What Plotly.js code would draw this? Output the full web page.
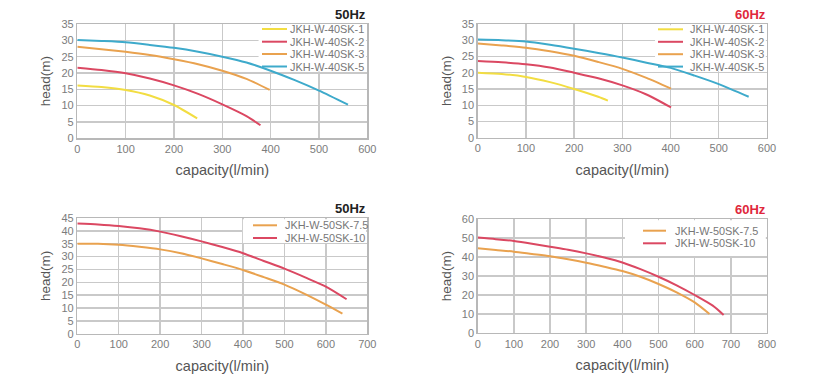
<!DOCTYPE html>
<html><head><meta charset="utf-8">
<script src="https://cdn.plot.ly/plotly-3.0.1.min.js"></script>
<style>html,body{margin:0;padding:0;background:#fff}#chart{width:834px;height:377px}</style>
</head><body><div id="chart"></div>
<script>
// ---------- DATA ----------
// Top-left: 50Hz, JKH-W-40SK series
const tl_names = ["JKH-W-40SK-1", "JKH-W-40SK-2", "JKH-W-40SK-3", "JKH-W-40SK-5"];
const tl_x1 = [0, 50, 100, 150, 200, 248];
const tl_y1 = [16.2, 15.7, 14.8, 13.1, 10.2, 6.1];
const tl_x2 = [0, 50, 100, 150, 200, 250, 300, 350, 379];
const tl_y2 = [21.6, 20.9, 19.9, 18.3, 16.2, 13.6, 10.4, 6.8, 4.0];
const tl_x3 = [0, 50, 100, 150, 200, 250, 300, 350, 398];
const tl_y3 = [28.0, 27.3, 26.5, 25.5, 24.2, 22.7, 20.7, 18.2, 14.8];
const tl_x5 = [0, 50, 100, 150, 200, 250, 300, 350, 400, 450, 500, 560];
const tl_y5 = [30.1, 29.8, 29.4, 28.6, 27.7, 26.5, 25.0, 23.2, 20.7, 17.8, 14.6, 10.3];

// Top-right: 60Hz, JKH-W-40SK series
const tr_names = ["JKH-W-40SK-1", "JKH-W-40SK-2", "JKH-W-40SK-3", "JKH-W-40SK-5"];
const tr_x1 = [0, 50, 100, 150, 200, 250, 270];
const tr_y1 = [20.0, 19.6, 18.7, 17.1, 15.0, 12.6, 11.4];
const tr_x2 = [0, 50, 100, 150, 200, 250, 300, 350, 401];
const tr_y2 = [23.6, 23.2, 22.6, 21.6, 20.0, 18.3, 16.1, 13.3, 9.3];
const tr_x3 = [0, 50, 100, 150, 200, 250, 300, 350, 401];
const tr_y3 = [29.0, 28.4, 27.7, 26.6, 25.2, 23.3, 21.2, 18.4, 15.1];
const tr_x5 = [0, 50, 100, 150, 200, 250, 300, 350, 400, 450, 500, 562];
const tr_y5 = [30.2, 30.0, 29.6, 28.6, 27.4, 26.1, 24.7, 23.1, 21.5, 19.1, 16.5, 12.6];

// Bottom-left: 50Hz, JKH-W-50SK series
const bl_names = ["JKH-W-50SK-7.5", "JKH-W-50SK-10"];
const bl_x75 = [0, 50, 100, 150, 200, 250, 300, 350, 400, 450, 500, 550, 600, 640];
const bl_y75 = [35.0, 35.0, 34.6, 33.8, 32.8, 31.3, 29.3, 27.1, 24.8, 22.0, 19.1, 15.4, 11.3, 7.8];
const bl_x10 = [0, 50, 100, 150, 200, 250, 300, 350, 400, 450, 500, 550, 600, 650];
const bl_y10 = [42.9, 42.5, 41.9, 41.0, 39.7, 37.9, 35.9, 33.7, 31.3, 28.3, 25.3, 21.9, 18.3, 13.4];

// Bottom-right: 60Hz, JKH-W-50SK series
const br_names = ["JKH-W-50SK-7.5", "JKH-W-50SK-10"];
const br_x75 = [0, 50, 100, 150, 200, 250, 300, 350, 400, 450, 500, 550, 600, 641];
const br_y75 = [44.6, 43.7, 42.8, 41.6, 40.4, 38.8, 37.0, 34.9, 32.6, 29.6, 25.8, 21.4, 16.1, 10.0];
const br_x10 = [0, 50, 100, 150, 200, 250, 300, 350, 400, 450, 500, 550, 600, 650, 680];
const br_y10 = [50.2, 49.4, 48.4, 47.0, 45.4, 43.8, 41.9, 39.7, 37.1, 33.6, 29.6, 25.1, 20.0, 14.4, 9.5];

const panelTitles = ["50Hz", "60Hz", "50Hz", "60Hz"];
const xAxisTitle = "capacity(l/min)";
const yAxisTitle = "head(m)";

// ---------- STYLE / LAYOUT ----------
const W = 834, H = 377;
const px = v => v / W;
const py = v => 1 - v / H;

const C_YEL = "#f2dd42", C_RED = "#db4862", C_ORG = "#e9a24f", C_CYA = "#3eaacb";
const FONT = "Liberation Sans, Arial, sans-serif";

const panels = [
  { xa: "x", ya: "y", xd: [77.3, 367.3], yd: [24, 138.3], xmax: 600, ymax: 35, ydt: 5,
    series: [[tl_x1, tl_y1], [tl_x2, tl_y2], [tl_x3, tl_y3], [tl_x5, tl_y5]], names: tl_names,
    colors: [C_YEL, C_RED, C_ORG, C_CYA], titleColor: "#222",
    leg: { bx0: 0.625, by0: 0.585, lx: [262, 287], tx: 287.5, rows: [29, 41.7, 54, 66.5] } },
  { xa: "x2", ya: "y2", xd: [477.7, 767], yd: [24, 137.7], xmax: 600, ymax: 35, ydt: 5,
    series: [[tr_x1, tr_y1], [tr_x2, tr_y2], [tr_x3, tr_y3], [tr_x5, tr_y5]], names: tr_names,
    colors: [C_YEL, C_RED, C_ORG, C_CYA], titleColor: "#e0283c",
    leg: { bx0: 0.613, by0: 0.585, lx: [658, 683], tx: 688, rows: [29.3, 41.8, 54.2, 66.6] } },
  { xa: "x3", ya: "y3", xd: [77.3, 367.3], yd: [218, 333.7], xmax: 700, ymax: 45, ydt: 5,
    series: [[bl_x75, bl_y75], [bl_x10, bl_y10]], names: bl_names,
    colors: [C_ORG, C_RED], titleColor: "#222",
    leg: { bx0: 0.571, by0: 0.785, lx: [253, 277], tx: 283, rows: [225.3, 238] } },
  { xa: "x4", ya: "y4", xd: [477.7, 767], yd: [219, 333], xmax: 800, ymax: 60, ydt: 10,
    series: [[br_x75, br_y75], [br_x10, br_y10]], names: br_names,
    colors: [C_ORG, C_RED], titleColor: "#e0283c",
    leg: { bx0: 0.509, by0: 0.675, lx: [643, 666], tx: 673, rows: [230.7, 243.3] } }
];

const data = [];
const layout = {
  width: W, height: H,
  margin: { l: 0, r: 0, t: 0, b: 0 },
  paper_bgcolor: "#fff", plot_bgcolor: "#fff",
  showlegend: false,
  font: { family: FONT, color: "#777" },
  shapes: [], annotations: []
};

panels.forEach((p, i) => {
  p.series.forEach((s, j) => {
    data.push({
      x: s[0], y: s[1], xaxis: p.xa, yaxis: p.ya, type: "scatter", mode: "lines",
      name: p.names[j], line: { color: p.colors[j], width: 2, shape: "spline", smoothing: 0.7 },
      hoverinfo: "skip"
    });
  });
  const xk = p.xa === "x" ? "xaxis" : "xaxis" + p.xa.slice(1);
  const yk = p.ya === "y" ? "yaxis" : "yaxis" + p.ya.slice(1);
  const common = {
    showgrid: true, gridcolor: "#c9c9c9", gridwidth: 1.4,
    showline: true, mirror: true, linecolor: "#b8b8b8", linewidth: 1.4,
    zeroline: false, ticks: "", fixedrange: true,
    tickfont: { family: FONT, size: 11, color: "#7c7c7c" }
  };
  layout[xk] = Object.assign({}, common, {
    domain: [px(p.xd[0]), px(p.xd[1])], anchor: p.ya, range: [0, p.xmax],
    tick0: 0, dtick: 100,
    title: { text: xAxisTitle, font: { family: FONT, size: 14.5, color: "#555" }, standoff: 11 }
  });
  layout[yk] = Object.assign({}, common, {
    domain: [py(p.yd[1]), py(p.yd[0])], anchor: p.xa, range: [0, p.ymax],
    tick0: 0, dtick: p.ydt,
    title: { text: yAxisTitle, font: { family: FONT, size: 13.5, color: "#555" }, standoff: 7 }
  });
  // legend background (covers gridlines, stays below the curves)
  layout.shapes.push({
    type: "rect", xref: p.xa, yref: p.ya,
    x0: p.leg.bx0 * p.xmax, x1: p.xmax * 0.996, y0: p.leg.by0 * p.ymax, y1: p.ymax * 0.99,
    fillcolor: "#fff", line: { width: 0 }, layer: "between"
  });
  p.names.forEach((n, j) => {
    layout.shapes.push({
      type: "line", xref: "paper", yref: "paper",
      x0: px(p.leg.lx[0]), x1: px(p.leg.lx[1]), y0: py(p.leg.rows[j]), y1: py(p.leg.rows[j]),
      line: { color: p.colors[j], width: 2 }, layer: "above"
    });
    layout.annotations.push({
      xref: "paper", yref: "paper", x: px(p.leg.tx), y: py(p.leg.rows[j]),
      xanchor: "left", yanchor: "middle", showarrow: false, text: n,
      font: { family: FONT, size: 10.9, color: "#777" }
    });
  });
  // panel frequency title
  layout.annotations.push({
    xref: "paper", yref: "paper", x: px(p.xd[1] + 1), y: py(p.yd[0] - 10),
    xanchor: "right", yanchor: "middle", showarrow: false,
    text: "<b>" + panelTitles[i] + "</b>",
    font: { family: FONT, size: 13, color: p.titleColor }
  });
});

Plotly.newPlot("chart", data, layout, { displayModeBar: false, staticPlot: true });
</script></body></html>
